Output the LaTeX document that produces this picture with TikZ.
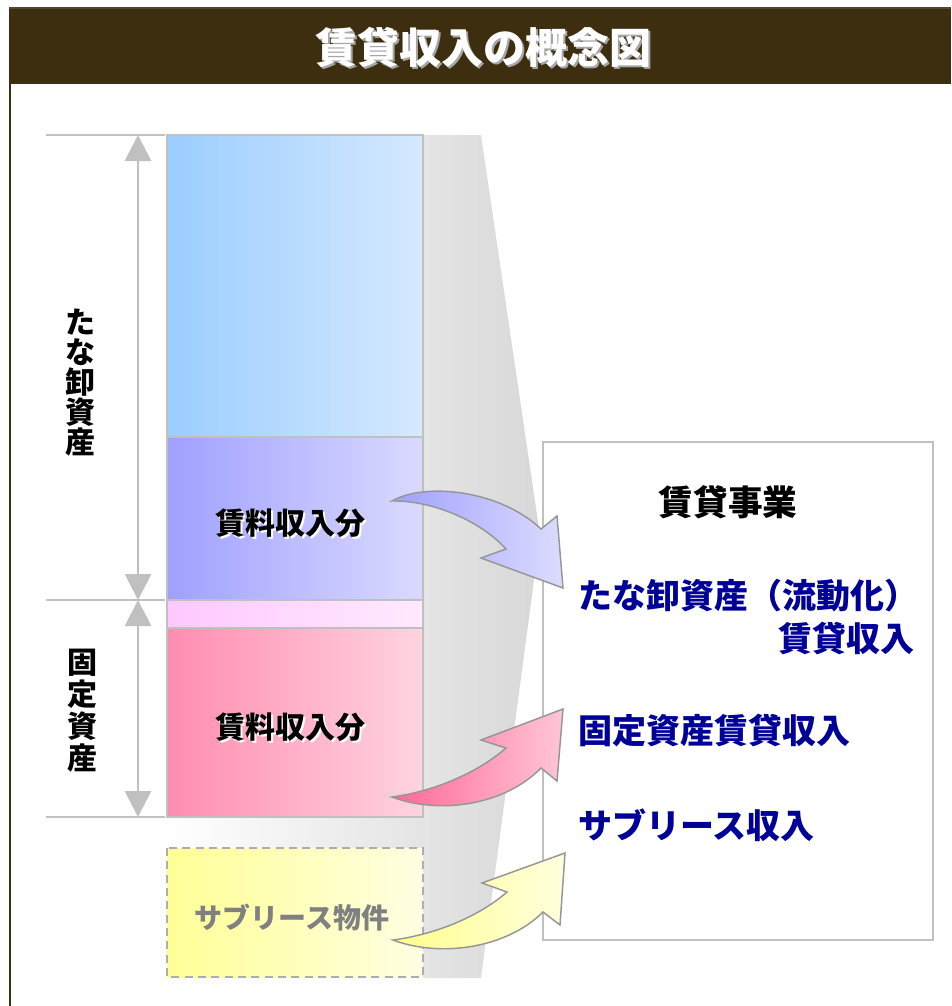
\documentclass[tikz,border=0pt]{standalone}
\usepackage{fontspec}
\newfontfamily\jp{Noto Sans CJK JP}[BoldFont={Noto Sans CJK JP Black}]
\usetikzlibrary{arrows.meta}
\definecolor{headerbrown}{RGB}{61,46,16}
\definecolor{boxgray}{RGB}{192,192,192}
\definecolor{blueL}{RGB}{155,205,255}
\definecolor{blueR}{RGB}{214,233,255}
\definecolor{purpL}{RGB}{160,160,255}
\definecolor{purpR}{RGB}{218,218,255}
\definecolor{lpinkL}{RGB}{255,200,255}
\definecolor{lpinkR}{RGB}{255,234,255}
\definecolor{pinkL}{RGB}{255,140,176}
\definecolor{pinkR}{RGB}{255,212,224}
\definecolor{yelL}{RGB}{255,255,150}
\definecolor{yelR}{RGB}{255,255,226}
\definecolor{abL}{RGB}{160,160,255}
\definecolor{abR}{RGB}{220,220,255}
\definecolor{apL}{RGB}{255,105,150}
\definecolor{apR}{RGB}{255,198,214}
\definecolor{ayL}{RGB}{255,255,140}
\definecolor{ayR}{RGB}{255,255,222}
\definecolor{arrowgray}{RGB}{150,150,150}
\definecolor{navytext}{RGB}{0,0,153}
\definecolor{funnelR}{RGB}{216,216,216}
\tikzset{
  box/.style={draw=boxgray, line width=1.5pt},
  dashbox/.style={draw=boxgray!90!black, line width=1.5pt, dash pattern=on 6pt off 4pt},
  dimline/.style={draw=boxgray, line width=1.5pt},
  dimarrow/.style={draw=boxgray, line width=2.2pt, {Triangle[length=19.5pt,width=19.5pt]}-{Triangle[length=19.5pt,width=19.5pt]}},
  blockarrow/.style={draw=arrowgray, line width=1.1pt, line join=miter},
  lbl/.style={inner sep=0pt, font=\jp\bfseries\fontsize{22.5}{22.5}\selectfont},
  navy/.style={inner sep=0pt, text=navytext, font=\jp\bfseries\fontsize{25.5}{25.5}\selectfont},
}
\begin{document}
\begin{tikzpicture}[x=0.75pt,y=-0.75pt]
\useasboundingbox (0,0) rectangle (951,1006);
% header
\fill[headerbrown] (9,8) rectangle (951,84);
\draw[headerbrown!70!gray, line width=0.8pt] (9,8) -- (951,8);
\draw[headerbrown, line width=1.5pt] (10,84) -- (10,1006);
\node[inner sep=0pt, text=gray!70, font=\jp\bfseries\fontsize{31.5}{31.5}\selectfont] at (485,49) {賃貸収入の概念図};
\node[inner sep=0pt, text=white, font=\jp\bfseries\fontsize{31.5}{31.5}\selectfont] (title) at (483,47) {賃貸収入の概念図};
% funnel background
\shade[left color=white, right color=funnelR] (167,135) -- (481,135) -- (540,535) -- (481,978) -- (167,978) -- cycle;
% stacked boxes
\path[box, left color=blueL, right color=blueR] (167,135) rectangle (423,437);
\path[box, left color=purpL, right color=purpR] (167,437) rectangle (423,600);
\path[box, left color=lpinkL, right color=lpinkR] (167,600) rectangle (423,628);
\path[box, left color=pinkL, right color=pinkR] (167,628) rectangle (423,817);
\path[dashbox, left color=yelL, right color=yelR] (167,848) rectangle (423,977);
% dimension lines
\coordinate (h1a) at (46,135); \coordinate (h1b) at (165,135);
\coordinate (h2a) at (46,600); \coordinate (h2b) at (165,600);
\coordinate (h3a) at (46,817); \coordinate (h3b) at (165,817);
\coordinate (d1) at (138,135); \coordinate (d2) at (138,600); \coordinate (d3) at (138,817);
\draw[dimline] (h1a) -- (h1b);
\draw[dimline] (h2a) -- (h2b);
\draw[dimline] (h3a) -- (h3b);
\draw[dimarrow] (d1) -- (d2);
\draw[dimarrow] (d2) -- (d3);
\node[lbl, align=center] (tana) at (80,383) {た\\な\\卸\\資\\産};
\node[lbl, align=center, font=\jp\bfseries\fontsize{22.5}{24}\selectfont] (kotei) at (82,711) {固\\定\\資\\産};
% right box
\path[box, fill=white] (543,442) rectangle (933,940);
% block arrows
\path[blockarrow, left color=abL, right color=abR]
  (392,501) .. controls (425,482) and (500,490) .. (541,529) -- (557,516) -- (563,588)
  -- (481,558) -- (506,549) .. controls (480,520) and (430,500) .. (392,501) -- cycle;
\path[blockarrow, left color=apL, right color=apR]
  (392,797) .. controls (440,815) and (505,805) .. (541,768) -- (557,781) -- (563,709)
  -- (481,740) -- (506,748) .. controls (475,775) and (430,792) .. (392,797) -- cycle;
\path[blockarrow, left color=ayL, right color=ayR]
  (393,940) .. controls (441,958) and (507,948) .. (543,912) -- (560,925) -- (565,853)
  -- (482,883) -- (507,892) .. controls (476,919) and (431,935) .. (393,940) -- cycle;
% box labels
\node[lbl, text=white] at (292,525) {賃料収入分};
\node[lbl] (inc1) at (290,523) {賃料収入分};
\node[lbl, text=white] at (292,729) {賃料収入分};
\node[lbl] (inc2) at (290,727) {賃料収入分};
\node[lbl, text=gray, font=\jp\bfseries\fontsize{21}{21}\selectfont] (sub) at (292,918) {サブリース物件};
% right box texts
\node[inner sep=0pt, font=\jp\bfseries\fontsize{26}{26}\selectfont] (biz) at (728,502) {賃貸事業};
\node[navy, anchor=west] (r1) at (578,596) {たな卸資産（流動化）};
\node[navy, anchor=east] (r2) at (915,638) {賃貸収入};
\node[navy, anchor=west] (r3) at (578,731) {固定資産賃貸収入};
\node[navy, anchor=west] (r4) at (578,825) {サブリース収入};
\end{tikzpicture}
\end{document}
